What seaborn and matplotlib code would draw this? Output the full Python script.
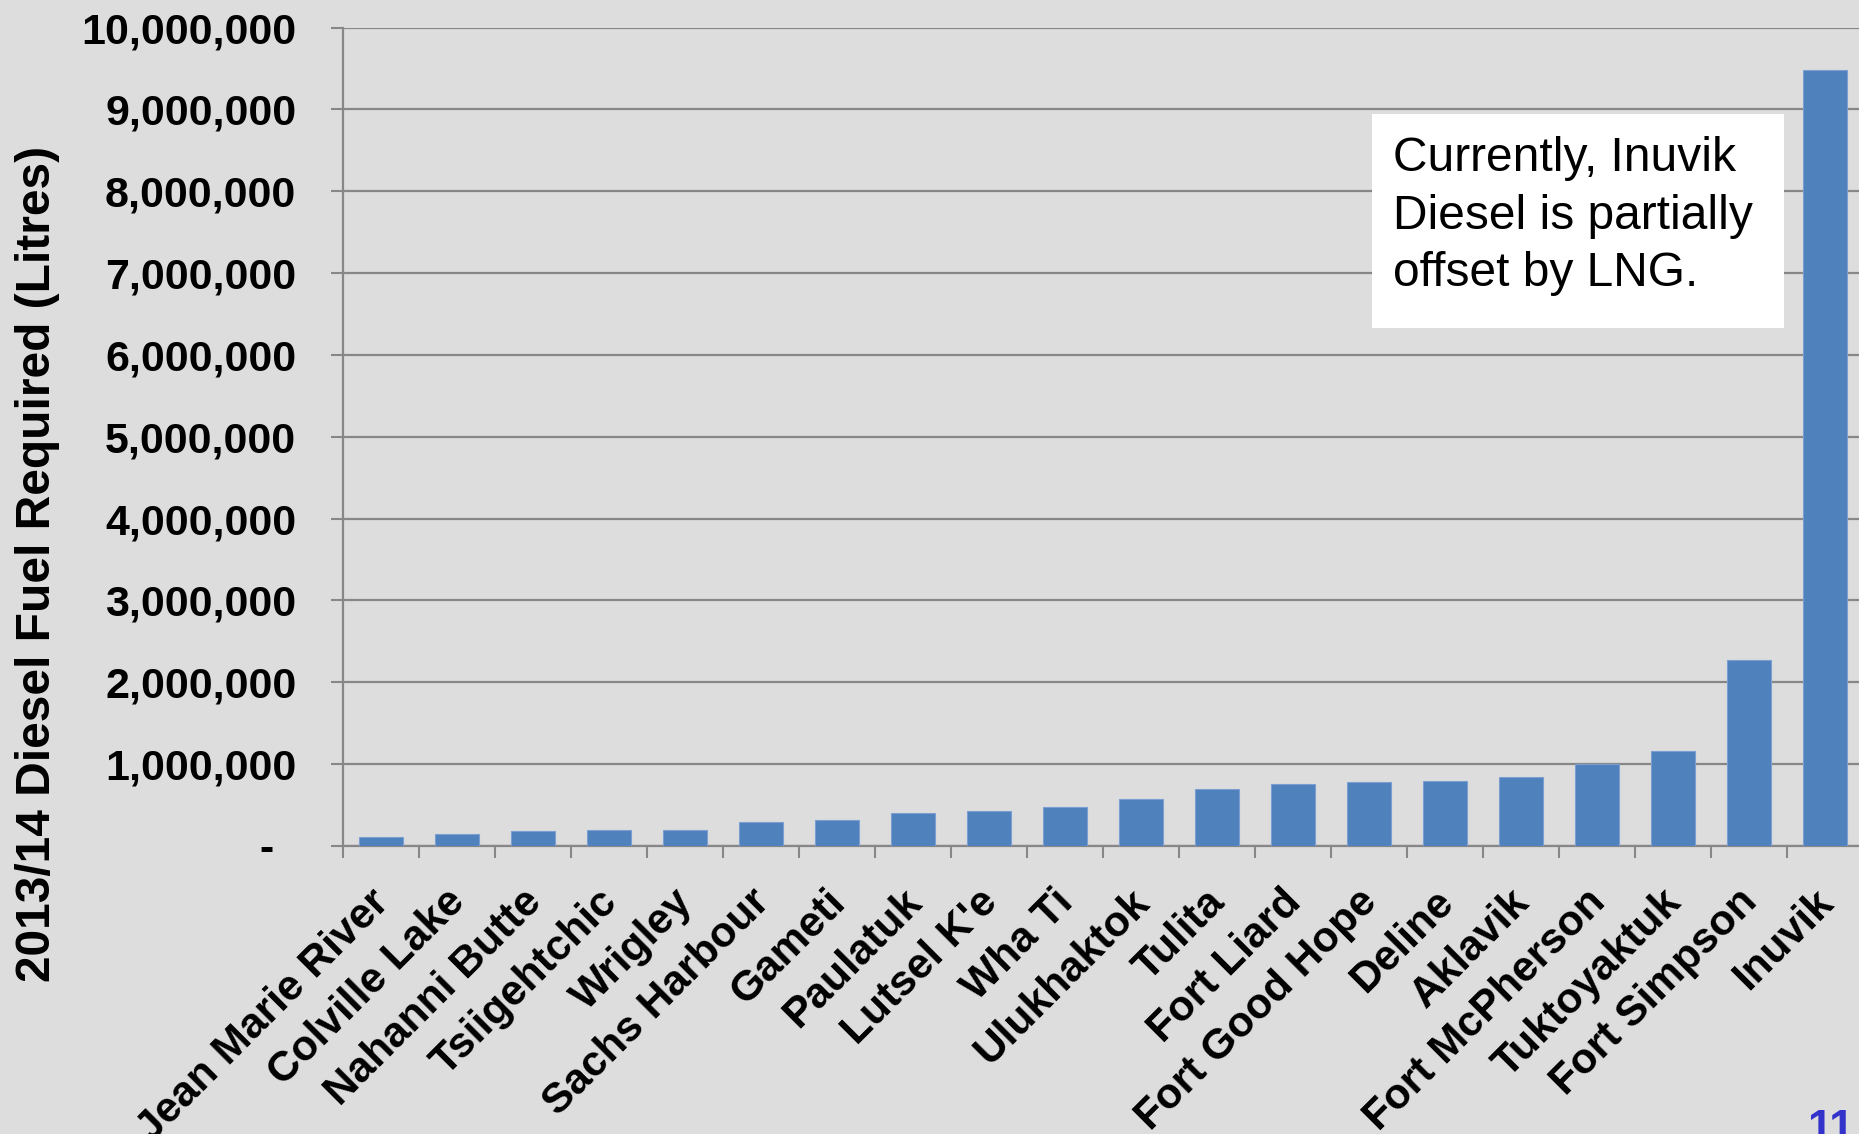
import matplotlib
matplotlib.use("Agg")
import matplotlib.pyplot as plt
import seaborn as sns
import pandas as pd
from matplotlib.patches import Rectangle
from matplotlib.transforms import ScaledTranslation

# ---- data ----
communities = ["Jean Marie River", "Colville Lake", "Nahanni Butte", "Tsiigehtchic",
               "Wrigley", "Sachs Harbour", "Gameti", "Paulatuk", "Lutsel K'e", "Wha Ti",
               "Ulukhaktok", "Tulita", "Fort Liard", "Fort Good Hope", "Deline", "Aklavik",
               "Fort McPherson", "Tuktoyaktuk", "Fort Simpson", "Inuvik"]
fuel_litres = [110000, 150000, 180000, 200000, 200000, 290000, 315000, 400000, 430000,
               475000, 580000, 700000, 760000, 780000, 800000, 840000, 1000000, 1160000,
               2270000, 9480000]
y_ticks = [0, 1000000, 2000000, 3000000, 4000000, 5000000, 6000000, 7000000, 8000000,
           9000000, 10000000]
y_tick_labels = ["-"] + [f"{v:,}" for v in y_ticks[1:]]
y_label = "2013/14 Diesel Fuel Required (Litres)"
note_text = "Currently, Inuvik\nDiesel is partially\noffset by LNG."
page_number = "11"

BG = "#dddddd"
BAR = "#4f81bd"
GRID = "#878787"

sns.set_theme(style="white", rc={"axes.facecolor": BG, "figure.facecolor": BG})
plt.rcParams["font.family"] = ["Liberation Sans", "DejaVu Sans"]

W, H = 1859, 1134
fig = plt.figure(figsize=(W / 100, H / 100), dpi=100)
ax = fig.add_axes([343 / W, 1 - 846 / H, 1520 / W, (846 - 27.5) / H])

df = pd.DataFrame({"community": communities, "litres": fuel_litres})
sns.barplot(data=df, x="community", y="litres", color=BAR, saturation=1, width=0.58,
            edgecolor="#7a9fd0", linewidth=0.8, ax=ax, zorder=3)

ax.set_xlim(-0.5, len(communities) - 0.5)
ax.set_ylim(0, 10000000)

# y axis
ax.set_yticks(y_ticks)
ax.set_yticklabels(y_tick_labels, fontsize=31, fontweight="bold", color="black")
ax.tick_params(axis="y", left=True, length=8.6, width=1.5, color=GRID, pad=25, direction="out")
ax.grid(axis="y", color=GRID, linewidth=1.6, zorder=0)
ax.grid(axis="x", visible=False)
ax.set_axisbelow(True)

# x axis
ax.set_xticks(range(len(communities)))
ax.set_xticklabels(communities, rotation=45, ha="right", va="top", rotation_mode="anchor",
                   fontsize=30.5, fontweight="bold", color="black")
ax.set_xticks([i - 0.5 for i in range(len(communities) + 1)], minor=True)
ax.tick_params(axis="x", which="major", bottom=True, length=0, pad=28)
ax.tick_params(axis="x", which="minor", bottom=True, length=8.6, width=1.5, color=GRID,
               direction="out")
ax.set_xlabel("")
for t in ax.xaxis.get_major_ticks():
    lbl = t.label1
    lbl.set_transform(lbl.get_transform() + ScaledTranslation(-0.12, 0.03, fig.dpi_scale_trans))

for s in ["top", "right"]:
    ax.spines[s].set_visible(False)
for s in ["left", "bottom"]:
    ax.spines[s].set_color(GRID)
    ax.spines[s].set_linewidth(1.6)

ax.set_ylabel(y_label, fontsize=34.5, fontweight="bold", color="black")
ax.yaxis.set_label_coords(-0.186, 0.345)

# shift the "-" zero label like the accounting format
zero_lbl = ax.yaxis.get_major_ticks()[0].label1
zero_lbl.set_transform(zero_lbl.get_transform() + ScaledTranslation(-0.23, 0, fig.dpi_scale_trans))

# annotation box
fig.add_artist(Rectangle((1372 / W, 1 - 328 / H), 412 / W, 214 / H, transform=fig.transFigure,
                         facecolor="white", edgecolor="none", zorder=5))
fig.text(1393 / W, 1 - 136 / H, note_text, ha="left", va="top", fontsize=34.5,
         color="black", linespacing=1.36, zorder=6)

# page number
fig.text(1854 / W, -0.006, page_number, ha="right", va="baseline", fontsize=32,
         fontweight="bold", color="#3333cc")

fig.savefig("out.png", dpi=100, facecolor=BG)
